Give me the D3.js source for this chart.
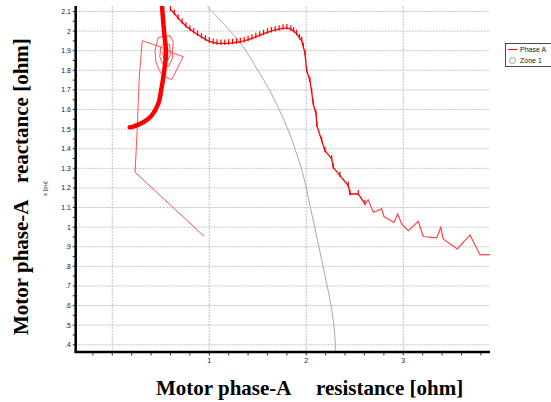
<!DOCTYPE html>
<html>
<head>
<meta charset="utf-8">
<script src="https://cdn.jsdelivr.net/npm/d3@7"></script>
<style>
  body { margin: 0; background: #fff; }
  svg { display: block; }
</style>
</head>
<body>
<svg id="chart" width="551" height="402"></svg>
<script>
// Phase A trajectory (R, X in ohm)
const phaseApproach = [
  [0.947, 0.953], [0.235, 1.28], [0.258, 1.509], [0.278, 1.764], [0.309, 1.951],
  [0.509, 1.917], [0.646, 1.884], [0.732, 1.870], [0.612, 1.751], [0.526, 1.773],
  [0.485, 1.798], [0.451, 1.841], [0.44, 1.90], [0.474, 1.968], [0.595, 1.977],
  [0.629, 1.943], [0.62, 1.90], [0.62, 1.86], [0.58, 1.82], [0.52, 1.83],
  [0.49, 1.87], [0.50, 1.92], [0.54, 1.94], [0.59, 1.93], [0.60, 1.88],
  [0.57, 1.85], [0.53, 1.86], [0.52, 1.89], [0.55, 1.91], [0.57, 1.89]
];
const phaseThick = [
  [0.18, 1.509], [0.216, 1.513], [0.32, 1.535], [0.406, 1.569], [0.474, 1.629],
  [0.509, 1.713], [0.536, 1.798], [0.554, 1.892], [0.536, 1.986], [0.515, 2.113],
  [0.51, 2.15]
];
const phaseWave = [
  [0.60, 2.11], [0.64, 2.09], [0.68, 2.065], [0.72, 2.045], [0.76, 2.025],
  [0.80, 2.01], [0.84, 1.995], [0.88, 1.982], [0.92, 1.97], [0.96, 1.958],
  [1.00, 1.948], [1.04, 1.942], [1.08, 1.938], [1.12, 1.937], [1.16, 1.937],
  [1.20, 1.938], [1.24, 1.940], [1.28, 1.943], [1.32, 1.946], [1.36, 1.950],
  [1.40, 1.956], [1.44, 1.963], [1.48, 1.971], [1.52, 1.979], [1.56, 1.987],
  [1.60, 1.994], [1.64, 2.000], [1.68, 2.006], [1.72, 2.010], [1.76, 2.014],
  [1.80, 2.016], [1.84, 2.010], [1.87, 2.000], [1.90, 1.986], [1.93, 1.965],
  [1.953, 1.952], [1.97, 1.92], [1.987, 1.884], [2.004, 1.798], [2.038, 1.747],
  [2.056, 1.688], [2.072, 1.629], [2.10, 1.578], [2.11, 1.518], [2.159, 1.441],
  [2.193, 1.39], [2.262, 1.348], [2.278, 1.305], [2.347, 1.263], [2.433, 1.212],
  [2.451, 1.169], [2.536, 1.169], [2.605, 1.118]
];
const phaseTail = [
  [2.605, 1.118], [2.639, 1.139], [2.691, 1.076], [2.777, 1.093], [2.801, 1.054],
  [2.904, 1.024], [2.942, 1.067], [2.984, 1.016], [3.052, 0.982], [3.155, 1.030],
  [3.206, 0.952], [3.344, 0.945], [3.386, 0.999], [3.412, 0.940], [3.557, 0.889],
  [3.688, 0.960], [3.791, 0.858], [3.894, 0.860]
];
// Zone 1 characteristic (grey arc)
const zone1 = [
  [0.98, 2.125], [1.18, 2.02], [1.35, 1.92], [1.5, 1.80], [1.62, 1.70],
  [1.72, 1.60], [1.81, 1.50], [1.89, 1.39], [1.96, 1.28], [2.0, 1.20],
  [2.06, 1.06], [2.13, 0.90], [2.19, 0.76], [2.24, 0.64], [2.28, 0.52],
  [2.30, 0.40], [2.30, 0.36]
];

const yTicks = [0.4, 0.5, 0.6, 0.7, 0.8, 0.9, 1.0, 1.1, 1.2, 1.3, 1.4, 1.5, 1.6, 1.7, 1.8, 1.9, 2.0, 2.1];
const yTickLabels = ['.4', '.5', '.6', '.7', '.8', '.9', '1', '1.1', '1.2', '1.3', '1.4', '1.5', '1.6', '1.7', '1.8', '1.9', '2', '2.1'];
const xTicks = [1, 2, 3];
const xGrid = [0, 1, 2, 3];
const xMinor = d3.range(-0.2, 3.81, 0.2);
const legendItems = ['Phase A', 'Zone 1'];

const svg = d3.select('#chart');
const plotLeft = 75.7, plotRight = 490, plotTop = 6, plotBottom = 352;

const x = d3.scaleLinear().domain([-0.377, 3.894]).range([plotLeft, plotRight]);
const y = d3.scaleLinear().domain([0.363, 2.128]).range([plotBottom, plotTop]);

svg.append('defs').append('clipPath').attr('id', 'plot')
  .append('rect')
  .attr('x', plotLeft).attr('y', plotTop)
  .attr('width', plotRight - plotLeft).attr('height', plotBottom - plotTop);

// grid
const grid = svg.append('g');
grid.selectAll('line.h')
  .data(yTicks)
  .enter().append('line')
  .attr('x1', plotLeft).attr('x2', plotRight)
  .attr('y1', d => y(d)).attr('y2', d => y(d))
  .attr('stroke', '#c4c4c4')
  .attr('stroke-width', 1)
  .attr('stroke-dasharray', '2,1');
grid.selectAll('line.v')
  .data(xGrid)
  .enter().append('line')
  .attr('x1', d => x(d)).attr('x2', d => x(d))
  .attr('y1', plotTop).attr('y2', plotBottom)
  .attr('stroke', '#c4c4c4')
  .attr('stroke-width', 1)
  .attr('stroke-dasharray', '2,1');

const plot = svg.append('g').attr('clip-path', 'url(#plot)');
const line = d3.line().x(d => x(d[0])).y(d => y(d[1]));

plot.append('path')
  .attr('d', line.curve(d3.curveCatmullRom)(zone1))
  .attr('fill', 'none')
  .attr('stroke', '#a8a8a8')
  .attr('stroke-width', 1);
line.curve(d3.curveLinear);

plot.append('path')
  .attr('d', line(phaseApproach))
  .attr('fill', 'none')
  .attr('stroke', '#ff5050')
  .attr('stroke-width', 1);

plot.append('path')
  .attr('d', line.curve(d3.curveCatmullRom)(phaseThick))
  .attr('fill', 'none')
  .attr('stroke', '#ff0000')
  .attr('stroke-width', 4.5)
  .attr('stroke-linecap', 'round');
line.curve(d3.curveLinear);

plot.append('path')
  .attr('d', line(phaseWave))
  .attr('fill', 'none')
  .attr('stroke', '#ff0000')
  .attr('stroke-width', 1.3);

plot.selectAll('path.tick')
  .data(phaseWave)
  .enter().append('path')
  .attr('d', d => `M${x(d[0])},${y(d[1]) - 4}V${y(d[1]) + 1.5}`)
  .attr('stroke', '#ff0000')
  .attr('stroke-width', 1.2);

plot.append('path')
  .attr('d', line(phaseTail))
  .attr('fill', 'none')
  .attr('stroke', '#ff4545')
  .attr('stroke-width', 1.2);

// axes
const yAxis = svg.append('g');
yAxis.selectAll('text')
  .data(yTicks)
  .enter().append('text')
  .attr('x', 71)
  .attr('y', d => y(d) + 2.5)
  .attr('text-anchor', 'end')
  .attr('font-family', 'Liberation Sans, Arial, sans-serif')
  .attr('font-size', 7)
  .attr('fill', '#222')
  .text((d, i) => yTickLabels[i]);
yAxis.selectAll('line.minor')
  .data(d3.range(0.4, 2.11, 0.05))
  .enter().append('line')
  .attr('x1', plotLeft - 3).attr('x2', plotLeft)
  .attr('y1', d => y(d)).attr('y2', d => y(d))
  .attr('stroke', '#000')
  .attr('stroke-width', 0.8);
yAxis.append('line')
  .attr('x1', plotLeft).attr('x2', plotLeft)
  .attr('y1', plotTop).attr('y2', plotBottom + 1)
  .attr('stroke', '#000')
  .attr('stroke-width', 2.5);

const xAxis = svg.append('g');
xAxis.selectAll('line.minor')
  .data(xMinor)
  .enter().append('line')
  .attr('x1', d => x(d)).attr('x2', d => x(d))
  .attr('y1', plotBottom).attr('y2', plotBottom + 3.5)
  .attr('stroke', '#000')
  .attr('stroke-width', 0.8);
xAxis.append('line')
  .attr('x1', plotLeft - 1).attr('x2', plotRight)
  .attr('y1', plotBottom).attr('y2', plotBottom)
  .attr('stroke', '#000')
  .attr('stroke-width', 2.5);
xAxis.selectAll('text')
  .data(xTicks)
  .enter().append('text')
  .attr('x', d => x(d))
  .attr('y', 363)
  .attr('text-anchor', 'middle')
  .attr('font-family', 'Liberation Sans, Arial, sans-serif')
  .attr('font-size', 7)
  .attr('fill', '#222')
  .text(d => d);

// small inner axis label
svg.append('text')
  .attr('transform', 'translate(47,196) rotate(-90)')
  .attr('font-family', 'Liberation Sans, Arial, sans-serif')
  .attr('font-size', 6)
  .attr('fill', '#222')
  .text('x [pu]');

// legend
const legend = svg.append('g');
legend.append('rect')
  .attr('x', 505.5).attr('y', 43.5)
  .attr('width', 60).attr('height', 23)
  .attr('fill', '#fff')
  .attr('stroke', '#000')
  .attr('stroke-width', 0.7);
legend.append('line')
  .attr('x1', 508).attr('x2', 517)
  .attr('y1', 49.5).attr('y2', 49.5)
  .attr('stroke', '#ff0000')
  .attr('stroke-width', 1);
legend.append('circle')
  .attr('cx', 512.5).attr('cy', 60.5).attr('r', 3)
  .attr('fill', 'none')
  .attr('stroke', '#888')
  .attr('stroke-width', 0.8);
legend.selectAll('text')
  .data(legendItems)
  .enter().append('text')
  .attr('x', 520)
  .attr('y', (d, i) => 52 + i * 11)
  .attr('font-family', 'Liberation Sans, Arial, sans-serif')
  .attr('font-size', 7)
  .attr('fill', '#222')
  .text(d => d);

// titles
const serif = 'Liberation Serif, Times New Roman, serif';
svg.append('text')
  .attr('x', 156).attr('y', 395)
  .attr('font-family', serif).attr('font-weight', 'bold').attr('font-size', 21)
  .text('Motor phase-A');
svg.append('text')
  .attr('x', 316).attr('y', 395)
  .attr('font-family', serif).attr('font-weight', 'bold').attr('font-size', 21)
  .text('resistance [ohm]');
svg.append('text')
  .attr('transform', 'translate(28,335) rotate(-90)')
  .attr('font-family', serif).attr('font-weight', 'bold').attr('font-size', 21)
  .text('Motor phase-A');
svg.append('text')
  .attr('transform', 'translate(28,183) rotate(-90)')
  .attr('font-family', serif).attr('font-weight', 'bold').attr('font-size', 21)
  .text('reactance [ohm]');
</script>
</body>
</html>
